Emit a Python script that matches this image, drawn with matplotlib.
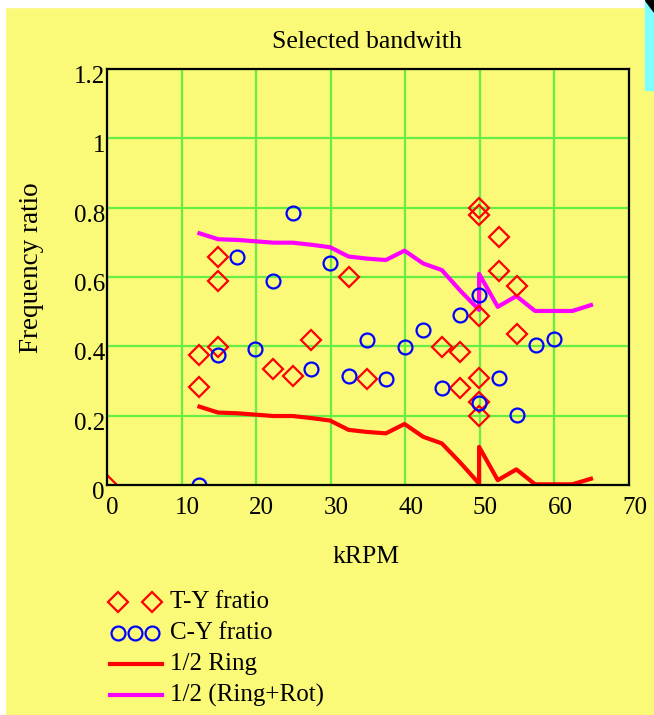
import matplotlib
matplotlib.use("Agg")
import matplotlib.pyplot as plt
from matplotlib.lines import Line2D
from matplotlib.patches import Rectangle, Polygon
from matplotlib.transforms import ScaledTranslation

# T-Y frequency ratio samples (kRPM, ratio)
ty_krpm = [0.0, 12.4, 12.4, 14.9, 14.9, 14.9, 22.3, 24.9, 27.4, 32.4, 34.9,
           44.9, 47.4, 47.4, 49.9, 49.9, 49.9, 49.9, 49.9, 49.9, 52.5, 52.5,
           55.0, 55.0]
ty_ratio = [0.0, 0.375, 0.282, 0.657, 0.588, 0.397, 0.336, 0.314, 0.418, 0.601,
            0.306, 0.399, 0.385, 0.279, 0.798, 0.779, 0.488, 0.308, 0.240,
            0.200, 0.716, 0.618, 0.575, 0.436]

# C-Y frequency ratio samples
cy_krpm = [12.4, 14.9, 17.4, 19.9, 22.3, 24.9, 27.4, 29.9, 32.4, 34.9, 37.4,
           40.0, 42.4, 44.9, 47.4, 49.9, 49.9, 52.5, 55.0, 57.5, 60.0]
cy_ratio = [0.0, 0.375, 0.657, 0.392, 0.588, 0.784, 0.336, 0.639, 0.314, 0.418,
            0.306, 0.399, 0.447, 0.279, 0.490, 0.548, 0.236, 0.308, 0.202,
            0.404, 0.421]

# bandwidth limit curves
line_krpm = [12.4, 14.9, 17.4, 19.9, 22.3, 24.9, 27.4, 29.9, 32.4, 34.9, 37.4,
             39.9, 42.4, 44.9, 47.4, 49.9, 49.9, 52.4, 54.9, 57.4, 59.9, 62.4,
             64.9]
half_ring = [0.226, 0.209, 0.207, 0.203, 0.199, 0.199, 0.193, 0.186, 0.159,
             0.153, 0.149, 0.176, 0.139, 0.120, 0.064, 0.004, 0.110, 0.014,
             0.045, 0.002, 0.002, 0.002, 0.018]
half_ring_rot = [0.726, 0.709, 0.707, 0.703, 0.699, 0.699, 0.693, 0.686, 0.659,
                 0.653, 0.649, 0.676, 0.639, 0.620, 0.560, 0.505, 0.609, 0.514,
                 0.545, 0.502, 0.502, 0.502, 0.519]

x_ticks = [0, 10, 20, 30, 40, 50, 60, 70]
y_ticks = [0, 0.2, 0.4, 0.6, 0.8, 1.0, 1.2]
y_tick_labels = ["0", "0.2", "0.4", "0.6", "0.8", "1", "1.2"]

legend_labels = ["T-Y fratio", "C-Y fratio", "1/2 Ring", "1/2 (Ring+Rot)"]

BG = "#FAFA78"
GRID = "#66EE44"
W, H = 654, 715
DIAMOND = dict(ls="none", marker="D", ms=10, mfc="none", mec="red", mew=1.6)
CIRCLE = dict(ls="none", marker="o", ms=10, mfc="none", mec="blue", mew=1.6)

plt.rcParams["font.family"] = ["Liberation Serif", "DejaVu Serif"]

fig = plt.figure(figsize=(W / 100, H / 100), dpi=100, facecolor=BG)


def px(x, y):
    return x / W, 1 - y / H


ax = fig.add_axes([107 / W, 1 - 485 / H, 522 / W, 416 / H])
ax.set_facecolor(BG)
ax.set_xlim(0, 70)
ax.set_ylim(0, 1.2)
ax.set_xticks(x_ticks)
ax.set_yticks(y_ticks)
ax.set_yticklabels(y_tick_labels)
ax.tick_params(length=0, labelsize=18)
ax.grid(True, color=GRID, lw=1.6)
ax.set_axisbelow(True)
for sp in ax.spines.values():
    sp.set_color("black")
    sp.set_linewidth(1.6)
    sp.set_zorder(5)

for lab in ax.get_xticklabels():
    lab.set_transform(lab.get_transform() + ScaledTranslation(4 / 72, -5 / 72, fig.dpi_scale_trans))
for lab in ax.get_yticklabels():
    lab.set_transform(lab.get_transform() + ScaledTranslation(2 / 72, -4 / 72, fig.dpi_scale_trans))

ax.plot(line_krpm, half_ring, color="red", lw=3, zorder=3)
ax.plot(line_krpm, half_ring_rot, color="magenta", lw=3, zorder=3)
ax.plot(ty_krpm, ty_ratio, zorder=4, **DIAMOND)
ax.plot(cy_krpm, cy_ratio, zorder=4, **CIRCLE)

fig.text(*px(367, 42), "Selected bandwith", fontsize=18.5, ha="center", va="center")
fig.text(*px(366, 557), "kRPM", fontsize=18.5, ha="center", va="center")
fig.text(*px(32, 268), "Frequency ratio", fontsize=19.5, ha="center",
         va="center", rotation=90)

# legend below the plot
leg_rows = [602, 633, 664, 695]
fig.add_artist(Line2D([px(118, 0)[0], px(152, 0)[0]], [px(0, leg_rows[0])[1]] * 2, **DIAMOND))
fig.add_artist(Line2D([px(x, 0)[0] for x in (118, 135, 152)], [px(0, leg_rows[1])[1]] * 3, **CIRCLE))
fig.add_artist(Line2D([px(110, 0)[0], px(162, 0)[0]], [px(0, leg_rows[2])[1]] * 2,
                      color="red", lw=3))
fig.add_artist(Line2D([px(110, 0)[0], px(162, 0)[0]], [px(0, leg_rows[3])[1]] * 2,
                      color="magenta", lw=3))
for row, text in zip(leg_rows, legend_labels):
    fig.text(*px(170, row), text, fontsize=18, ha="left", va="center")

# window frame bits around the region
fig.add_artist(Rectangle((0, 1 - 7 / H), 1, 7 / H, color="white", transform=fig.transFigure, zorder=0))
fig.add_artist(Rectangle((0, 0), 5 / W, 1, color="white", transform=fig.transFigure, zorder=0))
fig.add_artist(Rectangle((645 / W, 1 - 90 / H), 9 / W, 90 / H, color="#80FFFF",
                         transform=fig.transFigure, zorder=0))
fig.add_artist(Polygon([px(645, 0), px(654, 0), px(654, 12)], color="black",
                       transform=fig.transFigure, zorder=0))

fig.savefig("out.png", dpi=100, facecolor=BG)
